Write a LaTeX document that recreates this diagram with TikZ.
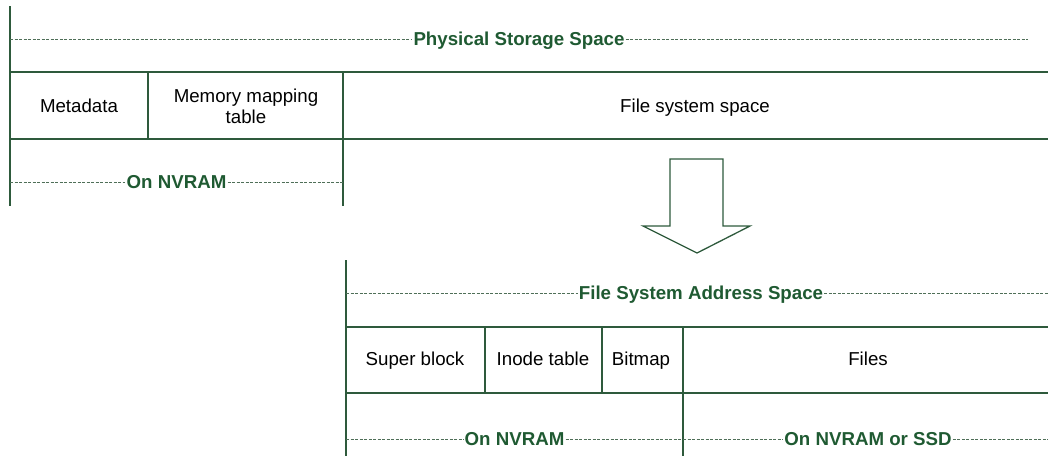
\documentclass[tikz,border=0pt]{standalone}
\usepackage{fontspec}
\setmainfont{Liberation Sans}
\begin{document}
\begin{tikzpicture}[x=1pt,y=-1pt,
  frame/.style={draw=linegreen,line width=1.3pt},
  guide/.style={draw=dashgreen,line width=0.9pt,dash pattern=on 3pt off 1.5pt},
  cell/.style={font=\fontsize{18.7}{21}\selectfont,text=black,inner sep=0pt,
    text height=13.4pt,text depth=0pt},
  twoline/.style={font=\fontsize{18.7}{21}\selectfont,text=black,align=center,inner sep=0pt},
  caption/.style={font=\fontsize{18.7}{21}\selectfont\bfseries,text=textgreen,inner sep=1pt,
    text height=13.4pt,text depth=0pt},
  blockarrow/.style={draw=linegreen,line width=1.3pt,fill=white,line join=miter}]
\definecolor{linegreen}{HTML}{2E5A3C}
\definecolor{dashgreen}{HTML}{4F6F58}
\definecolor{textgreen}{HTML}{1F5A32}
\useasboundingbox (0,0) rectangle (1048,456);

% ---- physical storage space ----
\draw[frame] (10,6) -- (10,206);
\draw[frame] (10,72) -- (1048,72);
\draw[frame] (10,139) -- (1048,139);
\draw[frame] (148,72) -- (148,139);
\draw[frame] (343,72) -- (343,206);

\node[caption] (pss) at (519,39) {Physical Storage Space};
\draw[guide] (10,39) -- (pss.west);
\draw[guide] (pss.east) -- (1028,39);

\node[cell] (meta) at (79,106) {Metadata};
\node[twoline] (mmt) at (246,106) {Memory mapping\\table};
\node[cell] (fss) at (695,106) {File system space};

\node[caption] (nv1) at (176.5,182) {On NVRAM};
\draw[guide] (10,182) -- (nv1.west);
\draw[guide] (nv1.east) -- (343,182);

% ---- transition arrow ----
\draw[blockarrow] (670,159) -- (723,159) -- (723,226) -- (750,226) -- (697,253)
  -- (643,226) -- (670,226) -- cycle;

% ---- file system address space ----
\draw[frame] (346,260) -- (346,456);
\draw[frame] (346,327) -- (1048,327);
\draw[frame] (346,393) -- (1048,393);
\draw[frame] (485,327) -- (485,393);
\draw[frame] (602,327) -- (602,393);
\draw[frame] (683,327) -- (683,456);

\node[caption] (fsas) at (701,293) {File System Address Space};
\draw[guide] (346,293) -- (fsas.west);
\draw[guide] (fsas.east) -- (1048,293);

\node[cell] (sb) at (415,359) {Super block};
\node[cell] (it) at (543,359) {Inode table};
\node[cell] (bm) at (641,359) {Bitmap};
\node[cell] (files) at (868,359) {Files};

\node[caption] (nv2) at (514.5,439) {On NVRAM};
\draw[guide] (346,439) -- (nv2.west);
\draw[guide] (nv2.east) -- (683,439);

\node[caption] (nvs) at (868,439) {On NVRAM or SSD};
\draw[guide] (683,439) -- (nvs.west);
\draw[guide] (nvs.east) -- (1048,439);
\end{tikzpicture}
\end{document}
